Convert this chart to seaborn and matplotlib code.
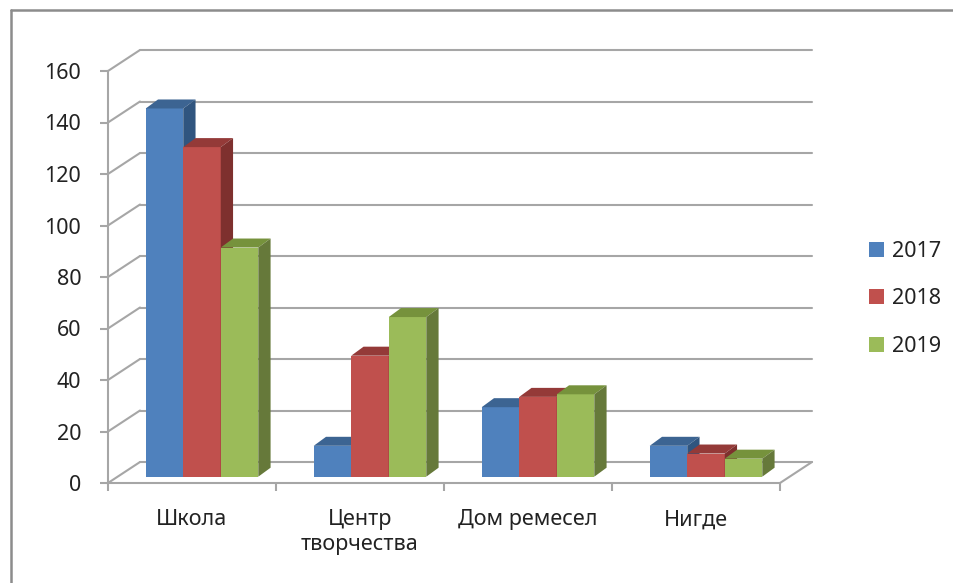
import numpy as np
import pandas as pd
import matplotlib
matplotlib.use("Agg")
import matplotlib.pyplot as plt
from matplotlib.patches import Polygon
from matplotlib.lines import Line2D
import seaborn as sns

categories = ["Школа", "Центр\nтворчества", "Дом ремесел", "Нигде"]
years = ["2017", "2018", "2019"]
values_2017 = [143, 12, 27, 12]
values_2018 = [128, 47, 31, 9]
values_2019 = [89, 62, 32, 7]
y_ticks = [0, 20, 40, 60, 80, 100, 120, 140, 160]

front_colors = ["#4F81BD", "#C0504D", "#9BBB59"]
top_colors = ["#3C6492", "#943A38", "#76923C"]
side_colors = ["#30557F", "#7E302E", "#66793A"]
grid_col = "#A6A6A6"
text_col = "#222222"

sns.set_theme(style="white")
plt.rcParams["font.family"] = ["Noto Sans", "DejaVu Sans"]

df = pd.DataFrame({
    "cat": np.repeat(categories, 3),
    "year": years * len(categories),
    "val": [v for trio in zip(values_2017, values_2018, values_2019) for v in trio],
})

W, H = 954, 583
fig = plt.figure(figsize=(W / 100, H / 100), dpi=100)
ax = fig.add_axes([108 / W, 100 / H, 672 / W, 412 / H])

sns.barplot(data=df, x="cat", y="val", hue="year", hue_order=years,
            palette=front_colors, saturation=1, width=0.67, dodge=True,
            errorbar=None, ax=ax, linewidth=0)

ax.set_xlim(-0.5, 3.5)
ax.set_ylim(0, 160)

XPX = 168.0      # px per category unit
YPX = 412 / 160  # px per value unit
px2x = lambda p: p / XPX
px2y = lambda p: p / YPX

# depth offsets
fdx, fdy = px2x(32), px2y(21)     # floor / wall depth
mdx, mdy = px2x(10), px2y(6.3)    # bar placement (mid depth)
bdx, bdy = px2x(12.3), px2y(9)    # bar depth

# back wall gridlines and left wall diagonals
for v in y_ticks:
    ax.add_line(Line2D([-0.5 + fdx, 3.5 + fdx], [v + fdy, v + fdy], color=grid_col,
                       lw=1.5, zorder=0.5, clip_on=False))
    ax.add_line(Line2D([-0.5, -0.5 + fdx], [v, v + fdy], color=grid_col,
                       lw=1.5, zorder=0.5, clip_on=False))
# floor right edge
ax.add_line(Line2D([3.5, 3.5 + fdx], [0, fdy], color=grid_col, lw=1.5,
                   zorder=0.5, clip_on=False))

# 3D-ize the bars
bars = sorted([p for p in ax.patches if p.get_height() > 0], key=lambda p: p.get_x())
order_map = {}
for i, p in enumerate(bars):
    x0 = p.get_x() + mdx
    w = p.get_width()
    h = p.get_height()
    col = p.get_facecolor()
    # find hue index by color
    hi = int(np.argmin([np.sum((np.array(matplotlib.colors.to_rgb(c)) - np.array(col[:3])) ** 2)
                        for c in front_colors]))
    p.set_x(x0)
    p.set_y(mdy)
    p.set_zorder(2 + i * 0.01)
    p.set_clip_on(False)
    b0, t0 = mdy, mdy + h
    top = Polygon([(x0, t0), (x0 + w, t0), (x0 + w + bdx, t0 + bdy), (x0 + bdx, t0 + bdy)],
                  closed=True, facecolor=top_colors[hi], edgecolor="none",
                  zorder=2 + i * 0.01, clip_on=False)
    side = Polygon([(x0 + w, b0), (x0 + w + bdx, b0 + bdy), (x0 + w + bdx, t0 + bdy), (x0 + w, t0)],
                   closed=True, facecolor=side_colors[hi], edgecolor="none",
                   zorder=2 + i * 0.01, clip_on=False)
    ax.add_patch(top)
    ax.add_patch(side)

# axes styling
for s in ["top", "right"]:
    ax.spines[s].set_visible(False)
for s in ["left", "bottom"]:
    ax.spines[s].set_color(grid_col)
    ax.spines[s].set_linewidth(1.5)
    ax.spines[s].set_zorder(1)

ax.set_yticks(y_ticks)
ax.set_yticklabels([str(v) for v in y_ticks])
ax.tick_params(axis="y", which="major", left=True, length=5.8, width=1.5, color=grid_col,
               pad=13.5, labelsize=15.5, labelcolor=text_col)
ax.set_xticks(range(len(categories)))
ax.set_xticklabels(categories, linespacing=1.2)
ax.tick_params(axis="x", which="major", bottom=False, length=0, pad=19,
               labelsize=15.5, labelcolor=text_col)
ax.set_xticks(np.arange(-0.5, 3.6, 1.0), minor=True)
ax.tick_params(axis="x", which="minor", bottom=True, length=5.8, width=1.5, color=grid_col)
ax.set_xlabel("")
ax.set_ylabel("")
ax.grid(False)

handles, labels = ax.get_legend_handles_labels()
ax.legend(handles, labels, loc="center left", bbox_to_anchor=(869 / W, 1 - 299 / H),
          bbox_transform=fig.transFigure, frameon=False, fontsize=15.5,
          handlelength=0.7, handleheight=0.7, handletextpad=0.35,
          labelspacing=1.25, borderpad=0, borderaxespad=0, labelcolor=text_col)

# outer border (top and left edge)
fig.add_artist(Line2D([11 / W, 11 / W], [0, 1 - 10 / H], transform=fig.transFigure,
                      color="#8C8C8C", lw=1.8))
fig.add_artist(Line2D([11 / W, 1], [1 - 10 / H, 1 - 10 / H], transform=fig.transFigure,
                      color="#8C8C8C", lw=1.8))

fig.savefig("out.png", dpi=100, facecolor="white")
